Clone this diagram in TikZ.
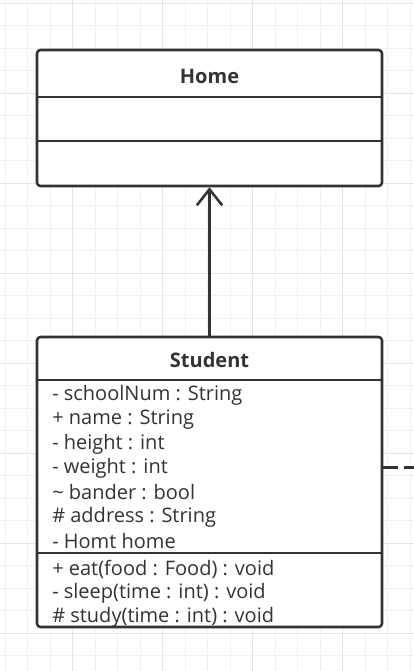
\documentclass[tikz,border=0pt]{standalone}
\usepackage{fontspec}
\setmainfont{Open Sans}
\usepackage{tikz}
\usetikzlibrary{arrows.meta}
\usetikzlibrary{calc}

\definecolor{umlline}{HTML}{333333}
\definecolor{gridminor}{HTML}{F2F2F2}
\definecolor{gridmajor}{HTML}{E4E4E4}

\begin{document}
\begin{tikzpicture}[x=0.75pt, y=-0.75pt, line join=round,
        class_style/.style={rectangle,draw=umlline,fill=white,line width=1.9pt,rounded corners=2.5pt,minimum width=258.75pt,inner sep=0pt},
        title_style/.style={text=umlline,font=\bfseries\fontsize{15}{18}\selectfont},
        member_style/.style={anchor=west,inner sep=0pt,text=umlline,font=\fontsize{15}{18}\selectfont},
        divider_style/.style={draw=umlline, line width=1.7pt},
        edge_style/.style={draw=umlline, line width=1.9pt,-{Straight Barb[length=12pt,width=19pt,line width=1.9pt]}},
        link_style/.style={draw=umlline, line width=1.9pt, dash pattern=on 11pt off 4.5pt}]

        \useasboundingbox (0,0) rectangle (414,671);
        \fill [white] (0,0) rectangle (414,671);

        % grid
        \foreach \gx in {5,27.5,...,414} \draw [gridminor, line width=0.75pt] (\gx,0) -- (\gx,671);
        \foreach \gy in {3,25.5,...,671} \draw [gridminor, line width=0.75pt] (0,\gy) -- (414,\gy);
        \foreach \gx in {72.5,162.5,252.5,342.5} \draw [gridmajor, line width=0.75pt] (\gx,0) -- (\gx,671);
        \foreach \gy in {3,93,183,273,363,453,543,633} \draw [gridmajor, line width=0.75pt] (0,\gy) -- (414,\gy);

        % classes
        \node [class_style, minimum height=102pt](home) at (209.5,118) {};

        \node [class_style, minimum height=217.5pt](student) at (209.5,482) {};

        \node [title_style](home_title) at (209.5,76) {Home};
        \draw [divider_style] (37,97) -- (382,97);
        \draw [divider_style] (37,141) -- (382,141);

        \node [title_style](student_title) at (209.5,360) {Student};
        \draw [divider_style] (37,380) -- (382,380);
        \draw [divider_style] (37,553) -- (382,553);

        \node [member_style](a1) at (52,395) {- schoolNum : String};
        \node [member_style](a2) at (52,420) {+ name : String};
        \node [member_style](a3) at (52,444) {- height : int};
        \node [member_style](a4) at (52,468) {- weight : int};
        \node [member_style](a5) at (52,492) {\char"007E{} bander : bool};
        \node [member_style](a6) at (52,517) {\# address : String};
        \node [member_style](a7) at (52,541) {- Homt home};

        \node [member_style](m1) at (52,569) {+ eat(food : Food) : void};
        \node [member_style](m2) at (52,593) {- sleep(time : int) : void};
        \node [member_style](m3) at (52,617) {\# study(time : int) : void};

        % relations
        \coordinate (offpage) at (414,467.7);

        \draw [edge_style] (student) -- (home);

        \draw [link_style] (student.east |- offpage) -- (offpage);

        \end{tikzpicture}
\end{document}
